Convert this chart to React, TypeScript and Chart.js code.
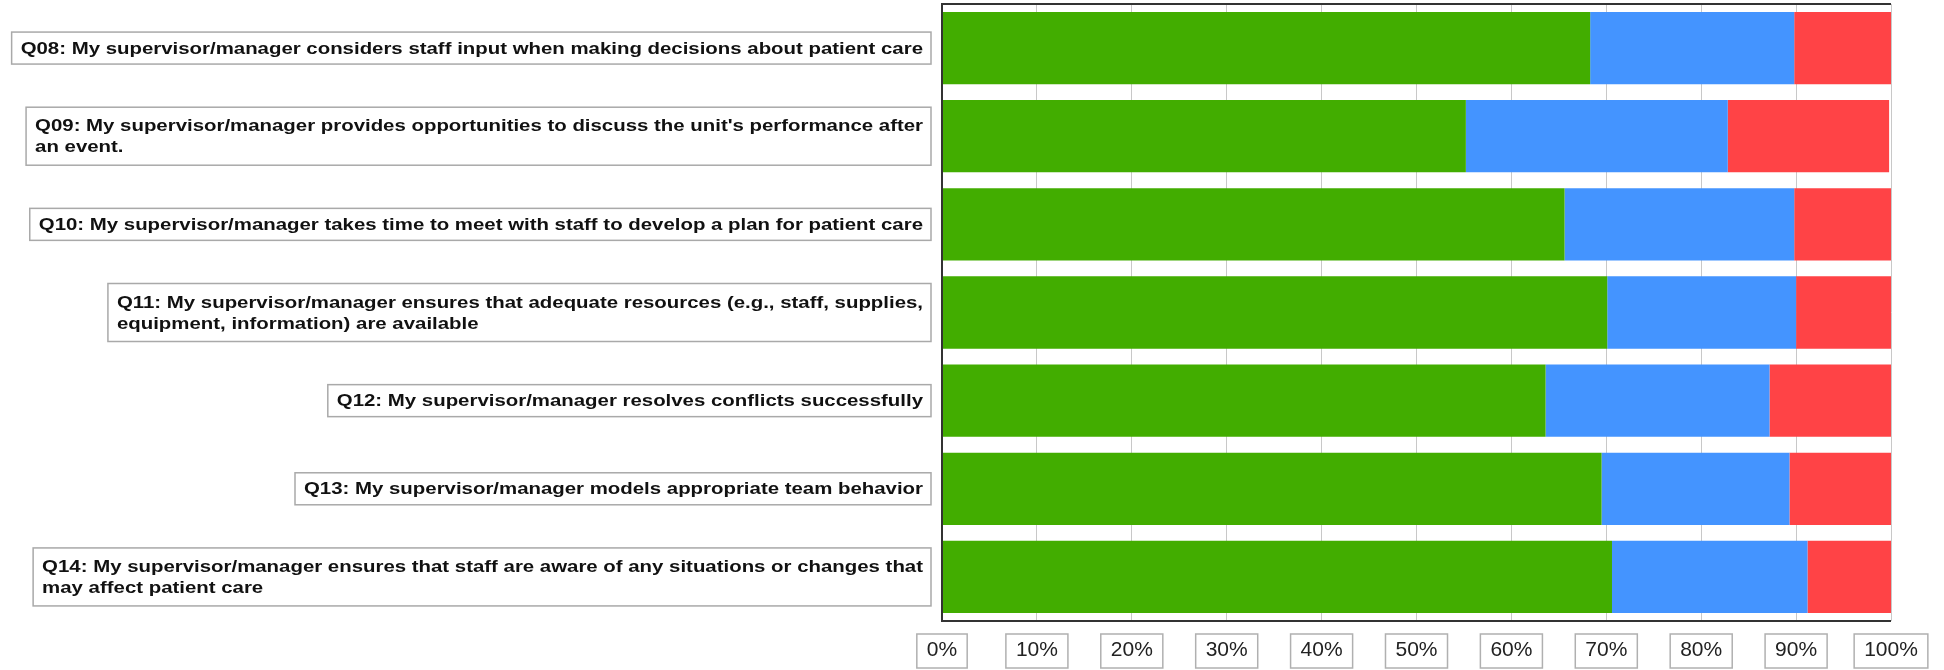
import React, { useEffect, useRef } from "react";
import { Chart, registerables } from "chart.js";

Chart.register(...registerables);

const categories: string[][] = [
  ["Q08: My supervisor/manager considers staff input when making decisions about patient care"],
  ["Q09: My supervisor/manager provides opportunities to discuss the unit's performance after", "an event."],
  ["Q10: My supervisor/manager takes time to meet with staff to develop a plan for patient care"],
  ["Q11: My supervisor/manager ensures that adequate resources (e.g., staff, supplies,", "equipment, information) are available"],
  ["Q12: My supervisor/manager resolves conflicts successfully"],
  ["Q13: My supervisor/manager models appropriate team behavior"],
  ["Q14: My supervisor/manager ensures that staff are aware of any situations or changes that", "may affect patient care"],
];

const positive = [68.3, 55.2, 65.6, 70.1, 63.6, 69.5, 70.6];
const neutral = [21.5, 27.6, 24.2, 19.9, 23.6, 19.8, 20.6];
const negative = [10.2, 17.0, 10.2, 10.0, 12.8, 10.7, 8.8];

const xTicks = [0, 10, 20, 30, 40, 50, 60, 70, 80, 90, 100];

const LABEL_FONT = 'bold 17px "Liberation Sans", Arial, sans-serif';
const LABEL_LINE_H = 21;
const LABEL_SX = 1.2;

const boxesPlugin = {
  id: "boxes",
  afterDraw(chart: any) {
    const ctx = chart.ctx as CanvasRenderingContext2D;
    const area = chart.chartArea;
    const yScale = chart.scales.y;
    const xScale = chart.scales.x;

    // category labels with boxes
    ctx.save();
    ctx.font = LABEL_FONT;
    ctx.textBaseline = "middle";
    ctx.textAlign = "left";
    const textRight = area.left - 19;
    const boxRight = area.left - 11;
    categories.forEach((lines, i) => {
      const cy = yScale.getPixelForValue(i);
      const w = Math.max(...lines.map((l) => ctx.measureText(l).width)) * LABEL_SX;
      const textLeft = textRight - w;
      const n = lines.length;
      const boxH = n === 1 ? 32 : 58;
      const boxLeft = textLeft - 9;
      ctx.strokeStyle = "#a9a9a9";
      ctx.lineWidth = 1.5;
      ctx.strokeRect(boxLeft, cy - boxH / 2, boxRight - boxLeft, boxH);
      ctx.fillStyle = "#111";
      lines.forEach((l, k) => {
        const ly = cy - ((n - 1) * LABEL_LINE_H) / 2 + k * LABEL_LINE_H + 1;
        ctx.save();
        ctx.translate(textLeft, ly);
        ctx.scale(LABEL_SX, 1);
        ctx.fillText(l, 0, 0);
        ctx.restore();
      });
    });
    ctx.restore();

    // x tick label boxes
    ctx.save();
    ctx.font = '21px "Liberation Sans", Arial, sans-serif';
    ctx.strokeStyle = "#b0b0b0";
    ctx.lineWidth = 1.5;
    xScale.ticks.forEach((t: any, i: number) => {
      const x = xScale.getPixelForTick(i);
      const label = t.value + "%";
      const w = ctx.measureText(label).width + 20;
      ctx.strokeRect(x - w / 2, 634, w, 34);
    });
    ctx.restore();

    // plot frame
    ctx.save();
    ctx.strokeStyle = "#333";
    ctx.lineWidth = 2;
    ctx.beginPath();
    ctx.moveTo(area.right, area.top);
    ctx.lineTo(area.left, area.top);
    ctx.lineTo(area.left, area.bottom);
    ctx.lineTo(area.right, area.bottom);
    ctx.stroke();
    ctx.restore();
  },
};

export default function App() {
  const ref = useRef<HTMLCanvasElement | null>(null);

  useEffect(() => {
    if (!ref.current) return;
    const chart = new Chart(ref.current, {
      type: "bar",
      data: {
        labels: categories.map((c) => c.join(" ")),
        datasets: [
          { label: "Positive", data: positive, backgroundColor: "#42ad00", borderWidth: 0 },
          { label: "Neutral", data: neutral, backgroundColor: "#4494ff", borderWidth: 0 },
          { label: "Negative", data: negative, backgroundColor: "#ff4346", borderWidth: 0 },
        ],
      },
      options: {
        indexAxis: "y",
        responsive: true,
        maintainAspectRatio: false,
        animation: false,
        datasets: { bar: { barPercentage: 0.82, categoryPercentage: 1 } },
        layout: { padding: { top: 4, right: 53, left: 0, bottom: 0 } },
        plugins: { legend: { display: false }, tooltip: { enabled: false } },
        scales: {
          x: {
            stacked: true,
            min: 0,
            max: 100,
            afterBuildTicks: (s: any) => {
              s.ticks = xTicks.map((v) => ({ value: v }));
            },
            afterFit: (s: any) => {
              s.height = 49;
            },
            ticks: {
              callback: (v: any) => v + "%",
              font: { family: '"Liberation Sans", Arial, sans-serif', size: 21 },
              color: "#222",
              padding: 17,
              maxRotation: 0,
              autoSkip: false,
            },
            grid: { color: "#c8c8c8", lineWidth: 1, drawTicks: false },
            border: { display: false },
          },
          y: {
            stacked: true,
            afterFit: (s: any) => {
              s.width = 942;
            },
            ticks: { display: false },
            grid: { display: false },
            border: { display: false },
          },
        },
      },
      plugins: [boxesPlugin],
    });
    return () => chart.destroy();
  }, []);

  return (
    <div style={{ position: "fixed", left: 0, top: 0, width: 1944, height: 670, background: "#fff" }}>
      <canvas ref={ref} />
    </div>
  );
}
